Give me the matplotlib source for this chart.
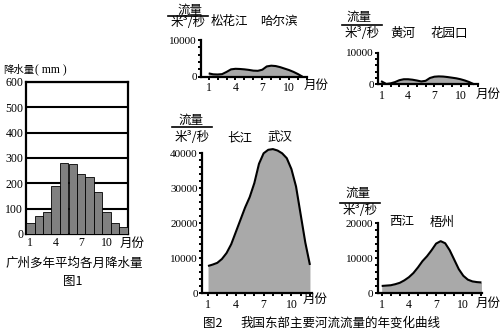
import matplotlib
matplotlib.use("Agg")
import matplotlib.pyplot as plt
from matplotlib.lines import Line2D
from matplotlib.ticker import MultipleLocator

plt.rcParams['font.family'] = ['Noto Sans CJK SC', 'DejaVu Sans']

# --- data: 图1 广州降水 ---
rain_months = list(range(1, 13))
rain_mm = [45, 70, 85, 190, 280, 276, 238, 226, 165, 88, 45, 28]

# --- data: 图2 河流流量 (米³/秒), 按半月读取 ---
song_months = [1, 1.5, 2, 2.5, 3, 3.5, 4, 4.5, 5, 5.5, 6, 6.5, 7, 7.5, 8, 8.5, 9, 9.5, 10, 10.5, 11, 11.5]
song_flow = [900, 650, 600, 700, 1300, 2000, 2150, 2100, 2000, 1850, 1650, 1600, 1900, 2800, 3000, 2900,
             2600, 2200, 1800, 1300, 700, 0]

huang_months = [0.9, 1.5, 2, 2.5, 3, 3.5, 4, 4.5, 5, 5.5, 6, 6.5, 7, 7.5, 8, 8.5, 9, 9.5, 10, 10.5, 11, 11.55]
huang_flow = [1000, 100, 300, 700, 1300, 1600, 1600, 1450, 1200, 900, 1100, 2000, 2400, 2500, 2450, 2300,
              2100, 1900, 1600, 1200, 700, 0]

chang_months = [1, 1.5, 2, 2.5, 3, 3.5, 4, 4.5, 5, 5.5, 6, 6.5, 7, 7.5, 8, 8.5, 9, 9.5, 10, 10.5, 11, 11.5, 12]
chang_flow = [7800, 8200, 8700, 9800, 11500, 14000, 17500, 21000, 24500, 27500, 31500, 37000, 40000, 41000,
              41200, 40800, 40000, 38600, 35500, 30500, 22500, 14500, 8100]

xi_months = [1, 1.5, 2, 2.5, 3, 3.5, 4, 4.5, 5, 5.5, 6, 6.5, 7, 7.5, 8, 8.5, 9, 9.5, 10, 10.5, 11, 11.5, 12]
xi_flow = [2100, 2200, 2300, 2600, 3000, 3700, 4600, 5800, 7400, 9200, 10600, 12300, 14200, 14900, 14300,
           12300, 9600, 6900, 5000, 3900, 3400, 3200, 3100]

month_ticks = [1, 4, 7, 10]

W, H = 501, 332
SERIF = 'Liberation Serif'
fig = plt.figure(figsize=(W / 100, H / 100), dpi=100)


def px_rect(l, t, r, b):
    return [l / W, 1 - b / H, (r - l) / W, (b - t) / H]


def ftext(x, y, s, **kw):
    kw.setdefault('fontsize', 9)
    kw.setdefault('ha', 'center')
    kw.setdefault('va', 'center')
    fig.text(x / W, 1 - y / H, s, **kw)


# --- 图1 ---
ax1 = fig.add_axes(px_rect(26, 82, 128, 234))
ax1.bar(rain_months, rain_mm, width=1, color='#808080', edgecolor='black', linewidth=0.6, zorder=3)
ax1.set_xlim(0.5, 12.5)
ax1.set_ylim(0, 600)
ax1.set_yticks(range(0, 601, 100))
ax1.set_xticks(month_ticks)
ax1.grid(axis='y', color='black', linewidth=1.5, zorder=1)
ax1.tick_params(length=0, pad=2, labelsize=8.5)
for lab in ax1.get_xticklabels() + ax1.get_yticklabels():
    lab.set_fontfamily(SERIF)
for sp in ax1.spines.values():
    sp.set_linewidth(1.6)

ftext(3, 70, '降水量', ha='left', fontsize=7.5)
ftext(35, 70, '( mm )', ha='left', fontsize=8.5, family=SERIF)
ftext(132, 243, '月份')
ftext(74, 263, '广州多年平均各月降水量')
ftext(73, 282, '图1', fontsize=9)


# --- 图2 ---
def draw_river(rect, months, flow, xlim, ymax):
    ax = fig.add_axes(px_rect(*rect))
    ax.fill_between(months, flow, 0, color='#a9a9a9', linewidth=0, clip_on=False)
    ax.plot(months, flow, color='black', linewidth=1.5, solid_capstyle='butt', clip_on=False)
    ax.set_xlim(*xlim)
    ax.set_ylim(0, ymax)
    ax.yaxis.set_major_locator(MultipleLocator(10000))
    ax.yaxis.set_minor_locator(MultipleLocator(2000))
    ax.set_xticks(month_ticks)
    ax.set_xticks(range(1, 13), minor=True)
    for s in ['top', 'right']:
        ax.spines[s].set_visible(False)
    for s in ['left', 'bottom']:
        ax.spines[s].set_linewidth(1.6)
    ax.tick_params(axis='y', which='both', length=2.5, width=1.4, pad=0.5, labelsize=8)
    ax.tick_params(axis='x', which='both', length=2.5, width=1.4, pad=1.5, labelsize=8.5)
    for lab in ax.get_xticklabels() + ax.get_yticklabels():
        lab.set_fontfamily(SERIF)
    return ax


def unit_label(cx, y_top, y_line, y_bot, x0, x1):
    ftext(cx, y_top, '流量')
    fig.add_artist(Line2D([x0 / W, x1 / W], [1 - y_line / H, 1 - y_line / H],
                          color='black', linewidth=1.2))
    ftext((x0 + x1) / 2, y_bot, '米³/秒')


draw_river((201, 40, 307, 76.7), song_months, song_flow, (0.14, 11.5), 10000)
unit_label(190, 10, 15.7, 22, 168, 208)
ftext(229, 22, '松花江')
ftext(279, 22, '哈尔滨')
ftext(316, 85, '月份')

draw_river((378, 52.7, 478, 84.3), huang_months, huang_flow, (0.55, 11.7), 10000)
unit_label(359, 17, 25, 33.7, 342, 382)
ftext(402.5, 33.7, '黄河')
ftext(449.5, 33.7, '花园口')
ftext(488, 94, '月份')

draw_river((202, 153.3, 311.7, 293.3), chang_months, chang_flow, (0.35, 12.19), 40000)
unit_label(191, 120, 127.3, 137.5, 172, 212)
ftext(240, 137.5, '长江')
ftext(280, 137.5, '武汉')
ftext(315, 299, '月份')

draw_river((377.7, 223.3, 482, 293.3), xi_months, xi_flow, (0.56, 12.06), 20000)
unit_label(358, 193, 202.7, 210.5, 340, 380)
ftext(402, 222, '西江')
ftext(442, 222, '梧州')
ftext(488, 303, '月份')

ftext(213, 323, '图2')
ftext(340, 323, '我国东部主要河流流量的年变化曲线')

fig.savefig('out.png', dpi=100)
